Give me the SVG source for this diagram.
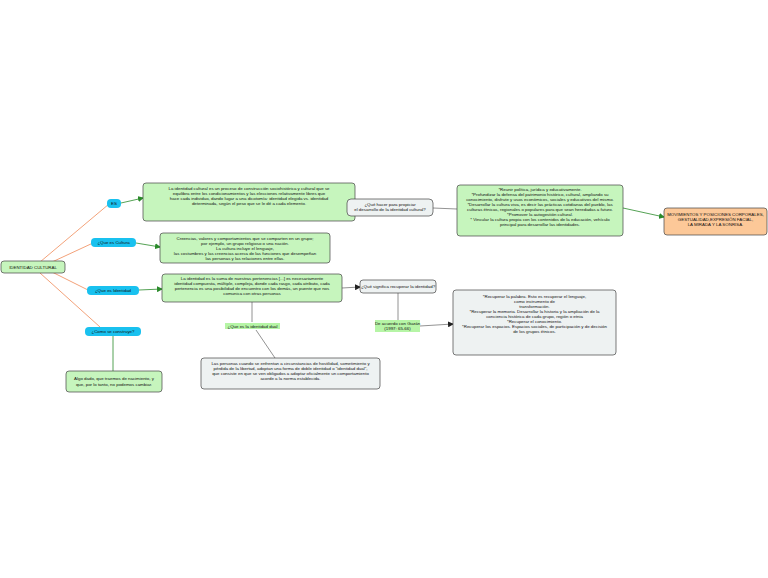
<svg xmlns="http://www.w3.org/2000/svg" width="768" height="578" viewBox="0 0 768 578">
<style>
text{font-family:"Liberation Sans",Arial,sans-serif;font-size:4.4px;fill:#111;text-anchor:middle}
.g{fill:#c6f5bd;stroke:#444;stroke-width:0.7}
.gr{fill:#eef2f2;stroke:#444;stroke-width:0.7}
.b{fill:#19c1ef;stroke:none}
.o{fill:#fcc898;stroke:#444;stroke-width:0.7}
.lo{stroke:#f3a27a;stroke-width:1;fill:none}
.lg{stroke:#2a8a2a;stroke-width:0.8;fill:none}
.lk{stroke:#777;stroke-width:0.8;fill:none}
.hl{fill:#b6f5a6}
</style>
<defs><marker id="a" markerWidth="6" markerHeight="6" refX="5" refY="3" orient="auto" markerUnits="userSpaceOnUse"><path d="M0,0L6,3L0,6z" fill="#2a8a2a"/></marker>
<marker id="k" markerWidth="6" markerHeight="6" refX="5" refY="3" orient="auto" markerUnits="userSpaceOnUse"><path d="M0,0L6,3L0,6z" fill="#222"/></marker></defs>
<rect width="768" height="578" fill="#fff"/>
<g id="connectors">
<path class="lo" d="M40,262L109,204M52,262L93,243M52,272L90,291M40,273L100,327"/>
<path class="lg" d="M121,203L143,198" marker-end="url(#a)"/>
<path class="lg" d="M136,243L160,247" marker-end="url(#a)"/>
<path class="lg" d="M139,290L162,289" marker-end="url(#a)"/>
<path class="lg" d="M113,336L113,371"/>
<path class="lk" d="M355,203L347,207M433,208L457,209M252,302L252,322M256,330L275,358M398,293L398,320"/>
<path class="lg" d="M623,208L664,217" marker-end="url(#a)"/>
<path class="lk" d="M342,288L360,287" marker-end="url(#k)"/>
<path class="lk" d="M420,326L453,324" marker-end="url(#k)"/>
</g>
<g id="root"><rect class="g" x="1" y="261" width="64" height="12" rx="3"/><text x="33" y="268.6">IDENTIDAD CULTURAL</text></g>
<g id="es"><rect class="b" x="107" y="199" width="14" height="9" rx="4"/><text x="114" y="205">ES</text></g>
<g id="qcultura"><rect class="b" x="91" y="238" width="45" height="9" rx="4"/><text x="113.5" y="244">¿Que es Cultura</text></g>
<g id="qidentidad"><rect class="b" x="87" y="286" width="52" height="9" rx="4"/><text x="113" y="292">¿Que es Identidad</text></g>
<g id="qcomo"><rect class="b" x="85" y="327" width="56" height="9" rx="4"/><text x="113" y="333">¿Como se construye?</text></g>
<g id="algo"><rect class="g" x="66" y="371" width="96" height="21" rx="3"/><text x="114" y="380">Algo dado, que traemos de nacimiento, y</text><text x="114" y="385.5">que, por lo tanto, no podemos cambiar.</text></g>
<g id="esbox"><rect class="g" x="143" y="183" width="212" height="38" rx="3"/>
<text x="249" y="190">La identidad cultural es un proceso de construcción sociohistórica y cultural que se</text>
<text x="249" y="195">equilibra entre los condicionamientos y las elecciones relativamente libres que</text>
<text x="249" y="200">hace cada individuo, dando lugar a una dicotomía: identidad elegida vs. identidad</text>
<text x="249" y="205">determinada, según el peso que se le dé a cada elemento.</text></g>
<g id="culturabox"><rect class="g" x="160" y="233" width="170" height="30" rx="3"/>
<text x="245" y="240">Creencias, valores y comportamientos que se comparten en un grupo;</text>
<text x="245" y="245">por ejemplo, un grupo religioso o una nación.</text>
<text x="245" y="250">La cultura incluye el lenguaje,</text>
<text x="245" y="255">las costumbres y las creencias acerca de las funciones que desempeñan</text>
<text x="245" y="260">las personas y las relaciones entre ellas.</text></g>
<g id="identidadbox"><rect class="g" x="162" y="274" width="180" height="28" rx="3"/>
<text x="252" y="280">La identidad es la suma de nuestras pertenencias [...] es necesariamente</text>
<text x="252" y="285">identidad compuesta, múltiple, compleja, donde cada rasgo, cada atributo, cada</text>
<text x="252" y="290">pertenencia es una posibilidad de encuentro con los demás, un puente que nos</text>
<text x="252" y="295">comunica con otras personas</text></g>
<g id="dual"><rect class="hl" x="225" y="323" width="55" height="6"/><text x="252.5" y="327.5">¿Que es la identidad dual</text></g>
<g id="dualbox"><rect class="gr" x="201" y="358" width="179" height="31" rx="3"/>
<text x="290.5" y="365">Las personas cuando se enfrentan a circunstancias de hostilidad, sometimiento y</text>
<text x="290.5" y="370">pérdida de la libertad, adoptan una forma de doble identidad o "identidad dual",</text>
<text x="290.5" y="375">que consiste en que se ven obligados a adoptar oficialmente un comportamiento</text>
<text x="290.5" y="380">acorde a la norma establecida.</text></g>
<g id="quehacer"><rect class="gr" x="347" y="199" width="86" height="17" rx="4"/>
<text x="390" y="206">¿Qué hacer para propiciar</text><text x="390" y="211">el desarrollo de la identidad cultural?</text></g>
<g id="hacerbox"><rect class="g" x="457" y="185" width="166" height="51" rx="3" stroke="none"/>
<text x="540" y="191">*Reunir política, jurídica y educativamente.</text>
<text x="540" y="196">*Profundizar la defensa del patrimonio histórico, cultural, ampliando su</text>
<text x="540" y="201">conocimiento, disfrute y usos económicos, sociales y educativos del mismo.</text>
<text x="540" y="206">*Desarrollar la cultura viva, es decir las prácticas cotidianas del pueblo, las</text>
<text x="540" y="211">culturas étnicas, regionales o populares para que sean heredadas a futuro.</text>
<text x="540" y="216">*Promover la autogestión cultural.</text>
<text x="540" y="221">* Vincular la cultura propia con los contenidos de la educación, vehículo</text>
<text x="540" y="226">principal para desarrollar las identidades.</text></g>
<g id="movimientos"><rect class="o" x="664" y="208" width="103" height="27" rx="3"/>
<text x="715.5" y="216">MOVIMIENTOS Y POSICIONES CORPORALES,</text>
<text x="715.5" y="221">GESTUALIDAD,EXPRESIÓN FACIAL,</text>
<text x="715.5" y="226">LA MIRADA Y LA SONRISA.</text></g>
<g id="significa"><rect class="gr" x="360" y="280" width="76" height="13" rx="3"/><text x="398" y="288">¿Qué significa recuperar la identidad?</text></g>
<g id="acuerdo"><rect class="hl" x="375" y="320" width="45" height="12"/><text x="397.5" y="325">De acuerdo con Guzán</text><text x="397.5" y="330">(1997: 65-66)</text></g>
<g id="recuperar"><rect class="gr" x="453" y="290" width="163" height="65" rx="3"/>
<text x="534.5" y="298">*Recuperar la palabra. Esto es recuperar el lenguaje,</text>
<text x="534.5" y="303">como instrumento de</text>
<text x="534.5" y="308">transformación.</text>
<text x="534.5" y="313">*Recuperar la memoria. Desarrollar la historia y la ampliación de la</text>
<text x="534.5" y="318">conciencia histórica de cada grupo, región o etnia</text>
<text x="534.5" y="323">*Recuperar el conocimiento.</text>
<text x="534.5" y="328">*Recuperar los espacios. Espacios sociales, de participación y de decisión</text>
<text x="534.5" y="333">de los grupos étnicos.</text></g>
</svg>
